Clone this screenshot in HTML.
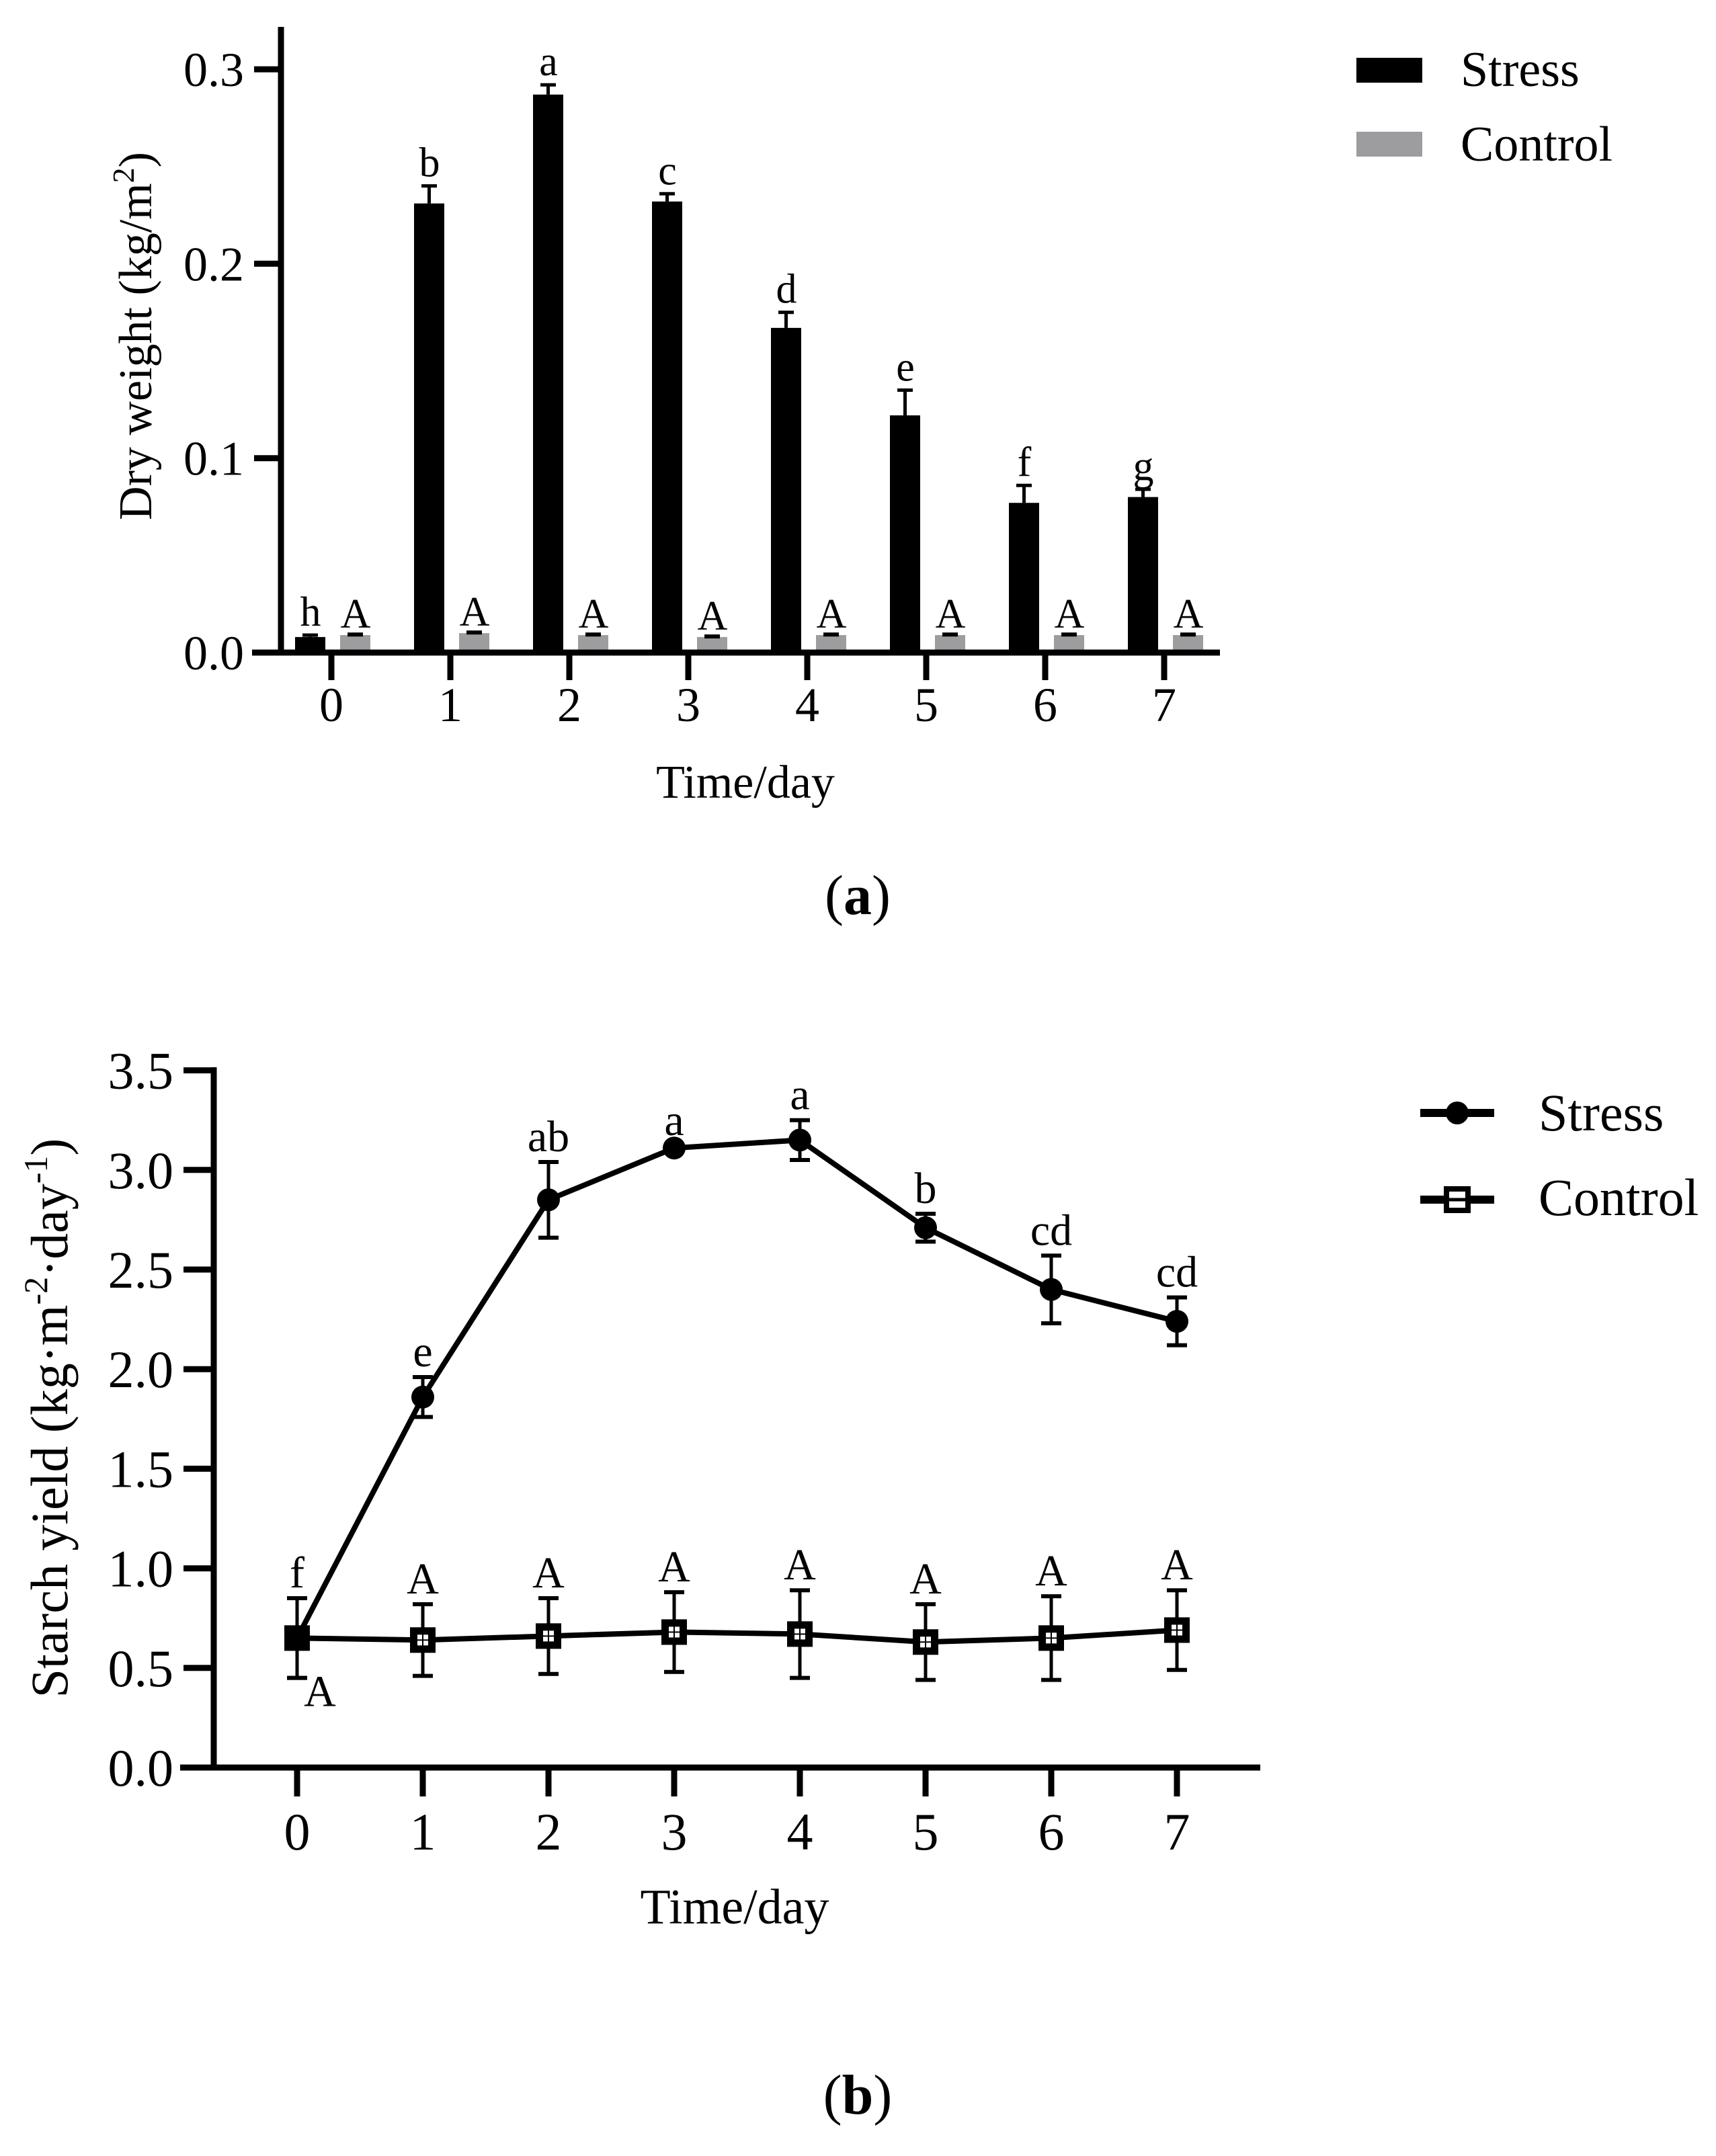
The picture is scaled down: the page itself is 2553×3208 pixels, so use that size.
<!DOCTYPE html>
<html><head><meta charset="utf-8"><style>
html,body{margin:0;padding:0;background:#fff;}
svg{display:block;font-family:"Liberation Serif",serif;}
</style></head><body>
<svg id="fig" width="2553" height="3208" viewBox="0 0 2553 3208" xmlns="http://www.w3.org/2000/svg">
<rect width="2553" height="3208" fill="#fff"/>
<g id="chartA"></g>
<g id="chartB"></g>
<text x="225" y="500" font-size="70" text-anchor="middle" transform="rotate(-90 225 500)">Dry weight (kg/m<tspan dy="-26" font-size="46">2</tspan><tspan dy="26">)</tspan></text>
<text x="1109" y="1187" font-size="70" text-anchor="middle">Time/day</text>
<text x="1276" y="1360" font-size="84" text-anchor="middle">(<tspan font-weight="bold">a</tspan>)</text>
<text x="100" y="2110" font-size="78" text-anchor="middle" transform="rotate(-90 100 2110)">Starch yield (kg·m<tspan dy="-30" font-size="50">-2</tspan><tspan dy="30">·day</tspan><tspan dy="-30" font-size="50">-1</tspan><tspan dy="30">)</tspan></text>
<text x="1093" y="2862" font-size="74" text-anchor="middle">Time/day</text>
<text x="1276" y="3145" font-size="84" text-anchor="middle">(<tspan font-weight="bold">b</tspan>)</text>
<g>
<rect x="2018" y="86" width="98" height="37" fill="#000"/>
<text x="2173" y="128" font-size="74">Stress</text>
<rect x="2018" y="196" width="98" height="37" fill="#9d9d9f"/>
<text x="2173" y="239" font-size="74">Control</text>
</g>
<g>
<line x1="2113" y1="1656" x2="2223" y2="1656" stroke="#000" stroke-width="12"/>
<circle cx="2168" cy="1656" r="17" fill="#000"/>
<text x="2289" y="1682" font-size="78">Stress</text>
<line x1="2113" y1="1785" x2="2223" y2="1785" stroke="#000" stroke-width="12"/>
<rect x="2152" y="1769" width="32" height="32" fill="#fff" stroke="#000" stroke-width="8"/>
<line x1="2152" y1="1785" x2="2184" y2="1785" stroke="#000" stroke-width="5"/>
<text x="2289" y="1808" font-size="78">Control</text>
</g>
</svg>
<script>
// ---- Chart A data ----
const daysA = [0,1,2,3,4,5,6,7];
const stressA = [0.008,0.231,0.287,0.232,0.167,0.122,0.077,0.080];
const stressErrA = [0.001,0.009,0.005,0.004,0.008,0.013,0.009,0.004];
const controlA = [0.009,0.010,0.009,0.008,0.009,0.009,0.009,0.009];
const controlErrA = [0.001,0.001,0.001,0.001,0.001,0.001,0.001,0.001];
const lettersA = ["h","b","a","c","d","e","f","g"];
const lettersCtrlA = ["A","A","A","A","A","A","A","A"];
const yTicksA = [0.0,0.1,0.2,0.3];
const yTickLabelsA = ["0.0","0.1","0.2","0.3"];
// ---- Chart B data ----
const daysB = [0,1,2,3,4,5,6,7];
const stressB = [0.65,1.86,2.85,3.11,3.15,2.71,2.40,2.24];
const stressErrB = [0.20,0.10,0.19,0.01,0.10,0.07,0.17,0.12];
const controlB = [0.65,0.64,0.66,0.68,0.67,0.63,0.65,0.69];
const controlErrB = [0.20,0.18,0.19,0.20,0.22,0.19,0.21,0.20];
const lettersB = ["f","e","ab","a","a","b","cd","cd"];
const lettersCtrlB = ["A","A","A","A","A","A","A","A"];
const yTicksB = [0,0.5,1.0,1.5,2.0,2.5,3.0,3.5];
const yTickLabelsB = ["0.0","0.5","1.0","1.5","2.0","2.5","3.0","3.5"];

const NS="http://www.w3.org/2000/svg";
function mk(parent,tag,attrs,text){const e=document.createElementNS(NS,tag);for(const k in attrs)e.setAttribute(k,attrs[k]);if(text!==undefined)e.textContent=text;parent.appendChild(e);return e;}

// Chart A
(function(){
const g=document.getElementById('chartA');
const xA=d=>493+177*d;
const yA=v=>971-v*2893;
for(let i=0;i<daysA.length;i++){
  const cx=xA(daysA[i]);
  let e=mk(g,'rect',{x:cx-54,y:yA(stressA[i]),width:45,height:971-yA(stressA[i]),fill:'#000'});
  
  
  const st=yA(stressA[i]+stressErrA[i]);
  mk(g,'line',{x1:cx-31.5,y1:yA(stressA[i]),x2:cx-31.5,y2:st,stroke:'#000','stroke-width':5});
  mk(g,'line',{x1:cx-43,y1:st,x2:cx-20,y2:st,stroke:'#000','stroke-width':5});
  e=mk(g,'rect',{x:cx+13,y:yA(controlA[i]),width:45,height:971-yA(controlA[i]),fill:'#9d9d9f'});
  
  
  const ct=yA(controlA[i]+controlErrA[i]);
  mk(g,'line',{x1:cx+24,y1:ct+2,x2:cx+47,y2:ct+2,stroke:'#000','stroke-width':6});
  e=mk(g,'text',{x:cx-31,y:st-14,'font-size':62,'text-anchor':'middle'},lettersA[i]);
  
  
  e=mk(g,'text',{x:cx+36,y:ct-8,'font-size':62,'text-anchor':'middle'},lettersCtrlA[i]);
  
  
  mk(g,'line',{x1:cx,y1:971,x2:cx,y2:1012,stroke:'#000','stroke-width':9});
  e=mk(g,'text',{x:cx,y:1073,'font-size':72,'text-anchor':'middle'},String(daysA[i]));
  
  
}
mk(g,'line',{x1:418,y1:40,x2:418,y2:975,stroke:'#000','stroke-width':9});
mk(g,'line',{x1:375,y1:971,x2:1815,y2:971,stroke:'#000','stroke-width':9});
for(let i=0;i<yTicksA.length;i++){
  const y=yA(yTicksA[i]);
  mk(g,'line',{x1:378,y1:y,x2:418,y2:y,stroke:'#000','stroke-width':9});
  const e=mk(g,'text',{x:363,y:y+25,'font-size':72,'text-anchor':'end'},yTickLabelsA[i]);
  
  
}
})();

// Chart B
(function(){
const g=document.getElementById('chartB');
const xB=d=>442+187*d;
const yB=v=>2630-v*296.4;
mk(g,'line',{x1:318,y1:1588,x2:318,y2:2634,stroke:'#000','stroke-width':9});
mk(g,'line',{x1:268,y1:2630,x2:1875,y2:2630,stroke:'#000','stroke-width':9});
for(let i=0;i<yTicksB.length;i++){
  const y=yB(yTicksB[i]);
  mk(g,'line',{x1:273,y1:y,x2:318,y2:y,stroke:'#000','stroke-width':9});
  const e=mk(g,'text',{x:258,y:y+27,'font-size':78,'text-anchor':'end'},yTickLabelsB[i]);
  
  
}
for(let i=0;i<daysB.length;i++){
  const cx=xB(daysB[i]);
  mk(g,'line',{x1:cx,y1:2630,x2:cx,y2:2673,stroke:'#000','stroke-width':9});
  const e=mk(g,'text',{x:cx,y:2752,'font-size':78,'text-anchor':'middle'},String(daysB[i]));
  
  
}
function errbar(cx,v,err){
  const t=yB(v+err),b=yB(v-err);
  mk(g,'line',{x1:cx,y1:t,x2:cx,y2:b,stroke:'#000','stroke-width':5});
  mk(g,'line',{x1:cx-15,y1:t,x2:cx+15,y2:t,stroke:'#000','stroke-width':6});
  mk(g,'line',{x1:cx-15,y1:b,x2:cx+15,y2:b,stroke:'#000','stroke-width':6});
}
for(let i=0;i<daysB.length;i++){errbar(xB(daysB[i]),controlB[i],controlErrB[i]);errbar(xB(daysB[i]),stressB[i],stressErrB[i]);}
let ps=daysB.map((d,i)=>xB(d)+','+yB(stressB[i])).join(' ');
let e=mk(g,'polyline',{points:ps,fill:'none',stroke:'#000','stroke-width':8,'stroke-linejoin':'round'});


ps=daysB.map((d,i)=>xB(d)+','+yB(controlB[i])).join(' ');
e=mk(g,'polyline',{points:ps,fill:'none',stroke:'#000','stroke-width':8,'stroke-linejoin':'round'});


for(let i=0;i<daysB.length;i++){
  const cx=xB(daysB[i]);
  let c=mk(g,'circle',{cx:cx,cy:yB(stressB[i]),r:17,fill:'#000'});
  
  
  const cy=yB(controlB[i]);
  const s=mk(g,'rect',{x:cx-19,y:cy-19,width:38,height:38,fill:'#000'});
  
  
  if(i>0){
    mk(g,'rect',{x:cx-8,y:cy-8,width:7,height:7,fill:'#fff'});
    mk(g,'rect',{x:cx+1,y:cy-8,width:7,height:7,fill:'#fff'});
    mk(g,'rect',{x:cx-8,y:cy+1,width:7,height:7,fill:'#fff'});
    mk(g,'rect',{x:cx+1,y:cy+1,width:7,height:7,fill:'#fff'});
  }
  const lt=mk(g,'text',{x:cx,y:yB(stressB[i]+stressErrB[i])-16,'font-size':66,'text-anchor':'middle'},lettersB[i]);
  
  
  let ct;
  if(i===0) ct=mk(g,'text',{x:cx+34,y:yB(controlB[i]-controlErrB[i])+42,'font-size':66,'text-anchor':'middle'},lettersCtrlB[i]);
  else ct=mk(g,'text',{x:cx,y:yB(controlB[i]+controlErrB[i])-16,'font-size':66,'text-anchor':'middle'},lettersCtrlB[i]);
  
  
}
})();
</script>
</body></html>
